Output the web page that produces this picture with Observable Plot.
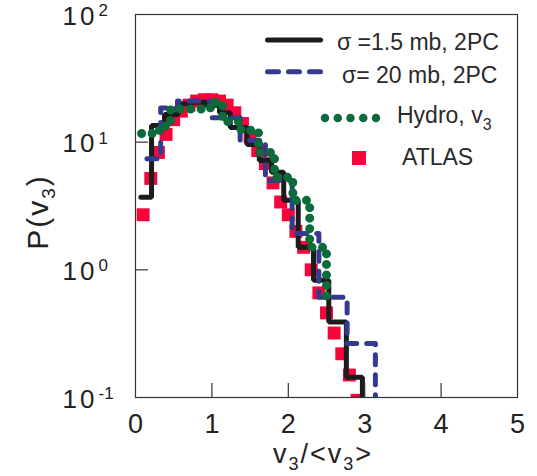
<!DOCTYPE html>
<html><head><meta charset="utf-8">
<script src="https://cdn.jsdelivr.net/npm/d3@7"></script>
<script src="https://cdn.jsdelivr.net/npm/@observablehq/plot@0.6"></script>
<style>
body{margin:0;background:#fff}
#chart{width:537px;height:476px}
</style>
</head><body><div id="chart"></div>
<script>
// ---- tick labels ----
const xTicks = [0, 1, 2, 3, 4, 5];
const xInnerTicks = [1, 2, 3, 4];
const yTicks = [0.1, 1, 10, 100];
const yExp = ["-1", "0", "1", "2"];
const yInnerTicks = [1, 10];

// ---- ATLAS points ----
const atlasV = [0.1,0.2,0.3,0.4,0.5,0.6,0.7,0.8,0.9,1.0,1.1,1.2,1.3,1.4,1.5,1.6,1.7,1.8,1.9,2.0,2.1,2.2,2.3,2.4,2.5,2.6,2.7,2.8,2.9];
const atlasP = [2.7,5.2,8.3,11.5,15,17.5,19.5,21,21.5,21.5,21,19.5,17,14,11,8.6,6.8,4.8,3.4,2.7,2.0,1.5,1.0,0.66,0.46,0.32,0.22,0.15,0.095];

// ---- sigma = 1.5 mb, 2PC (step histogram: left edge, value) ----
const sig15X = [0.07,0.21,0.38,0.56,0.74,0.92,1.10,1.24,1.46,1.62,1.78,1.94,2.13,2.33,2.53,2.76,2.97];
const sig15P = [3.7,13.5,16.5,20,20.5,19.5,17,13,9.6,7.2,5.8,3.5,1.5,0.83,0.39,0.144,0.05];

// ---- sigma = 20 mb, 2PC ----
const sig20X = [0.15,0.33,0.55,1.0,1.37,1.7,2.05,2.4,2.77,3.14];
const sig20P = [7.4,18.5,21,15.5,10.3,5.0,1.93,0.61,0.265,0.05];

// ---- Hydro, v3 ----
const hydroX = [0.08,0.22,0.35,0.46,0.98,1.14,1.38,1.61,1.82,2.06,2.28,2.5];
const hydroP = [11.7,12.4,13.4,18.2,20.5,14.5,12.4,8.3,5.3,3.5,1.5,0.58];

const rows = (xs, ys) => xs.map((x, i) => ({x, y: ys[i]}));

const cRed = "#f5053a", cGreen = "#0b6b3a", cBlue = "#343b8e", cBlack = "#1c1c1c";
const font = "'Liberation Sans', Arial, Helvetica, sans-serif";

const W = 537, H = 476, mL = 135, mR = 20, mT = 14, mB = 79;
const innerW = W - mL - mR, innerH = H - mT - mB;

const chart = Plot.plot({
  width: W, height: H,
  marginLeft: mL, marginRight: mR, marginTop: mT, marginBottom: mB,
  x: {domain: [0, 5], axis: null},
  y: {type: "log", domain: [0.1, 100], axis: null},
  style: {fontFamily: font, background: "#fff", color: "#333"},
  marks: [
    Plot.dot(rows(atlasV, atlasP), {x: "x", y: "y", symbol: "square", r: 7.3, fill: cRed, stroke: "none", clip: true}),
    Plot.line(rows(sig15X, sig15P), {x: "x", y: "y", curve: "step-after", stroke: cBlack, strokeWidth: 5, strokeLinejoin: "miter", clip: true}),
    Plot.line(rows(sig20X, sig20P), {x: "x", y: "y", curve: "step-after", stroke: cBlue, strokeWidth: 5, strokeDasharray: "10 10", strokeLinecap: "round", clip: true}),
    Plot.line(rows(hydroX, hydroP), {x: "x", y: "y", curve: "step-after", stroke: cGreen, strokeWidth: 9, strokeDasharray: "0 10.5", strokeLinecap: "round", clip: true}),
    Plot.frame({stroke: "#333", strokeWidth: 1.2}),
    Plot.tickX(xInnerTicks, {x: d => d, insetTop: innerH - 14, stroke: "#333", strokeWidth: 1.2}),
    Plot.tickY(yInnerTicks, {y: d => d, insetRight: innerW - 13, stroke: "#333", strokeWidth: 1.2}),
    Plot.text(xTicks, {x: d => d, text: d => String(d), frameAnchor: "bottom", dy: 35, fontSize: 27, fill: "#222"}),
    Plot.text(yTicks, {y: d => d, text: () => "10", frameAnchor: "left", dx: -38, dy: 2, textAnchor: "end", fontSize: 26, fill: "#222", ariaDescription: "ybase"}),
    Plot.text(yTicks, {y: d => d, text: (d, i) => yExp[i], frameAnchor: "left", dx: -37, dy: -4, textAnchor: "start", fontSize: 17, fill: "#222"})
  ]
});

document.getElementById("chart").appendChild(chart);
const svg = d3.select(chart);
svg.selectAll('g[aria-description="ybase"] text').attr("letter-spacing", "3px");

// axis titles
const xl = svg.append("text").attr("x", 323).attr("y", 463).attr("text-anchor", "middle")
  .attr("font-family", font).attr("font-size", 27).attr("fill", "#222").attr("letter-spacing", "2px");
xl.append("tspan").text("v");
xl.append("tspan").attr("font-size", 18).attr("dy", 7).text("3");
xl.append("tspan").attr("dy", -7).text("/<v");
xl.append("tspan").attr("font-size", 18).attr("dy", 7).text("3");
xl.append("tspan").attr("dy", -7).text(">");

const yl = svg.append("text").attr("transform", "translate(48,212) rotate(-90)").attr("text-anchor", "middle")
  .attr("font-family", font).attr("font-size", 30).attr("fill", "#222").attr("letter-spacing", "2px");
yl.append("tspan").text("P(v");
yl.append("tspan").attr("font-size", 19).attr("dy", 7).text("3");
yl.append("tspan").attr("dy", -7).text(")");

// legend
const lg = svg.append("g").attr("font-family", font).attr("font-size", 23).attr("fill", "#2a2a2a").attr("text-anchor", "start");
lg.append("line").attr("x1", 267.5).attr("x2", 320.5).attr("y1", 40).attr("y2", 40)
  .attr("stroke", cBlack).attr("stroke-width", 5).attr("stroke-linecap", "round");
lg.append("text").attr("x", 337).attr("y", 50).text("σ =1.5 mb, 2PC");
lg.append("line").attr("x1", 267.5).attr("x2", 320.5).attr("y1", 71.7).attr("y2", 71.7)
  .attr("stroke", cBlue).attr("stroke-width", 5).attr("stroke-linecap", "round").attr("stroke-dasharray", "11 10");
lg.append("text").attr("x", 342).attr("y", 83).text("σ= 20 mb, 2PC");
lg.append("line").attr("x1", 325).attr("x2", 376.5).attr("y1", 118).attr("y2", 118)
  .attr("stroke", cGreen).attr("stroke-width", 8.5).attr("stroke-linecap", "round").attr("stroke-dasharray", "0 12.75");
const ht = lg.append("text").attr("x", 397).attr("y", 123);
ht.append("tspan").text("Hydro, v");
ht.append("tspan").attr("font-size", 16).attr("dy", 7).text("3");
lg.append("rect").attr("x", 352).attr("y", 151).attr("width", 14).attr("height", 14).attr("fill", cRed);
lg.append("text").attr("x", 402).attr("y", 165).text("ATLAS");
</script>
</body></html>
